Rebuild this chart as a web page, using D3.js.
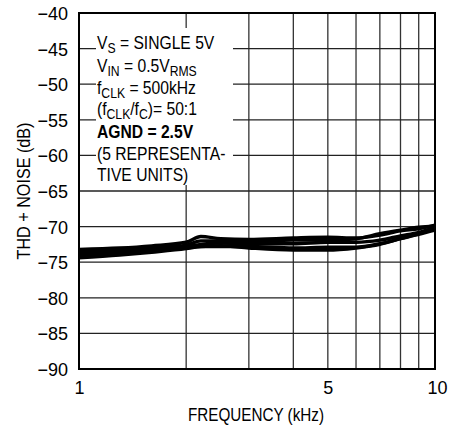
<!DOCTYPE html>
<html><head><meta charset="utf-8">
<script src="https://cdn.jsdelivr.net/npm/d3@7/dist/d3.min.js"></script>
<style>
html,body{margin:0;padding:0;background:#fff;}
text{font-family:"Liberation Sans",Arial,sans-serif;fill:#000;}
</style></head>
<body>
<svg id="chart" width="461" height="428"></svg>
<script>
const freqs = [1, 1.3, 1.6, 2, 2.2, 2.5, 3, 4, 5, 6, 7, 8, 9, 10];
const unit1 = [-73.2, -73.0, -72.7, -72.2, -71.4, -71.7, -71.8, -71.6, -71.5, -71.6, -71.2, -70.6, -70.3, -69.8];
const unit2 = [-73.5, -73.3, -73.0, -72.6, -72.0, -72.0, -72.1, -71.9, -71.9, -71.7, -71.0, -70.5, -70.1, -69.9];
const unit3 = [-73.8, -73.5, -73.2, -72.8, -72.5, -72.3, -72.4, -72.4, -72.2, -72.2, -71.9, -71.3, -70.8, -70.1];
const unit4 = [-74.1, -73.8, -73.4, -73.0, -72.8, -72.7, -73.0, -73.3, -73.3, -73.0, -72.5, -71.7, -71.0, -70.3];
const unit5 = [-74.4, -74.0, -73.6, -73.1, -72.8, -72.8, -72.8, -73.0, -72.9, -72.9, -72.4, -71.7, -71.1, -70.5];
const yTicks = [-90, -85, -80, -75, -70, -65, -60, -55, -50, -45, -40];
const xGrid = [2, 3, 4, 5, 6, 7, 8, 9];
const xTickLabels = [1, 5, 10];

const svg = d3.select("#chart");
const L = 79, T = 13, W = 356, H = 356;
const x = d3.scaleLog().domain([1, 10]).range([L, L + W]);
const y = d3.scaleLinear().domain([-90, -40]).range([T + H, T]);

// grid
svg.append("g").selectAll("line").data(xGrid).join("line")
  .attr("x1", d => x(d)).attr("x2", d => x(d)).attr("y1", T).attr("y2", T + H)
  .attr("stroke", "#333").attr("stroke-width", 1.3);
svg.append("g").selectAll("line").data(yTicks.slice(1, -1)).join("line")
  .attr("x1", L).attr("x2", L + W).attr("y1", d => y(d)).attr("y2", d => y(d))
  .attr("stroke", "#222").attr("stroke-width", 1.3);

// curves
const series = [unit1, unit2, unit3, unit4, unit5];
const line = d3.line().x((d, i) => x(freqs[i])).y(d => y(d)).curve(d3.curveMonotoneX);
svg.append("g").selectAll("path").data(series).join("path")
  .attr("d", d => line(d)).attr("fill", "none").attr("stroke", "#000")
  .attr("stroke-width", 3.4).attr("stroke-linejoin", "round");

// white box behind note
svg.append("rect").attr("x", 96).attr("y", 28).attr("width", 137).attr("height", 157).attr("fill", "#fff");

// frame
svg.append("rect").attr("x", L).attr("y", T).attr("width", W).attr("height", H)
  .attr("fill", "none").attr("stroke", "#000").attr("stroke-width", 2);

// y axis labels
const yAxis = d3.axisLeft(y).tickValues(yTicks).tickSize(0).tickPadding(11)
  .tickFormat(d => "\u2212" + Math.abs(d));
const ga = svg.append("g").attr("transform", `translate(${L},0)`).call(yAxis);
ga.select(".domain").remove();
ga.selectAll("text").attr("font-size", 18).attr("font-family", null).attr("dy", "0.36em");

// x axis labels
const xAxis = d3.axisBottom(x).tickValues(xTickLabels).tickSize(0).tickPadding(12)
  .tickFormat(d3.format("d"));
const gx = svg.append("g").attr("transform", `translate(0,${T + H})`).call(xAxis);
gx.select(".domain").remove();
gx.selectAll("text").attr("font-size", 18).attr("font-family", null);
gx.selectAll(".tick").filter(d => d === 10).select("text").attr("dx", 2);

// axis titles
svg.append("text").attr("x", 256).attr("y", 421).attr("text-anchor", "middle")
  .attr("font-size", 19).attr("textLength", 136).attr("lengthAdjust", "spacingAndGlyphs")
  .text("FREQUENCY (kHz)");
svg.append("text").attr("transform", `translate(29.5,${T + H / 2}) rotate(-90)`)
  .attr("text-anchor", "middle").attr("font-size", 17.5)
  .attr("textLength", 137).attr("lengthAdjust", "spacingAndGlyphs")
  .text("THD + NOISE (dB)");

// note
const note = svg.append("g").attr("font-size", 18)
  .attr("transform", "translate(97,0) scale(0.87,1)");
const lines = [
  [["V", 0], ["S", 1], [" = SINGLE 5V", 0]],
  [["V", 0], ["IN", 1], [" = 0.5V", 0], ["RMS", 1]],
  [["f", 0], ["CLK", 1], [" = 500kHz", 0]],
  [["(f", 0], ["CLK", 1], ["/f", 0], ["C", 1], [")= 50:1", 0]],
  [["AGND = 2.5V", 2]],
  [["(5 REPRESENTA-", 0]],
  [["TIVE UNITS)", 0]]
];
const baselines = [49, 72, 94, 115, 138, 160, 181];
lines.forEach((parts, i) => {
  const t = note.append("text").attr("x", 0).attr("y", baselines[i]);
  parts.forEach(([s, k], j) => {
    const ts = t.append("tspan").text(s);
    if (k === 1) ts.attr("font-size", 14).attr("dy", j > 0 && parts[j - 1][1] === 1 ? 0 : 4);
    else if (k === 2) ts.attr("font-weight", "bold");
    else if (j > 0 && parts[j - 1][1] === 1) ts.attr("dy", -4);
  });
});
</script>
</body></html>
